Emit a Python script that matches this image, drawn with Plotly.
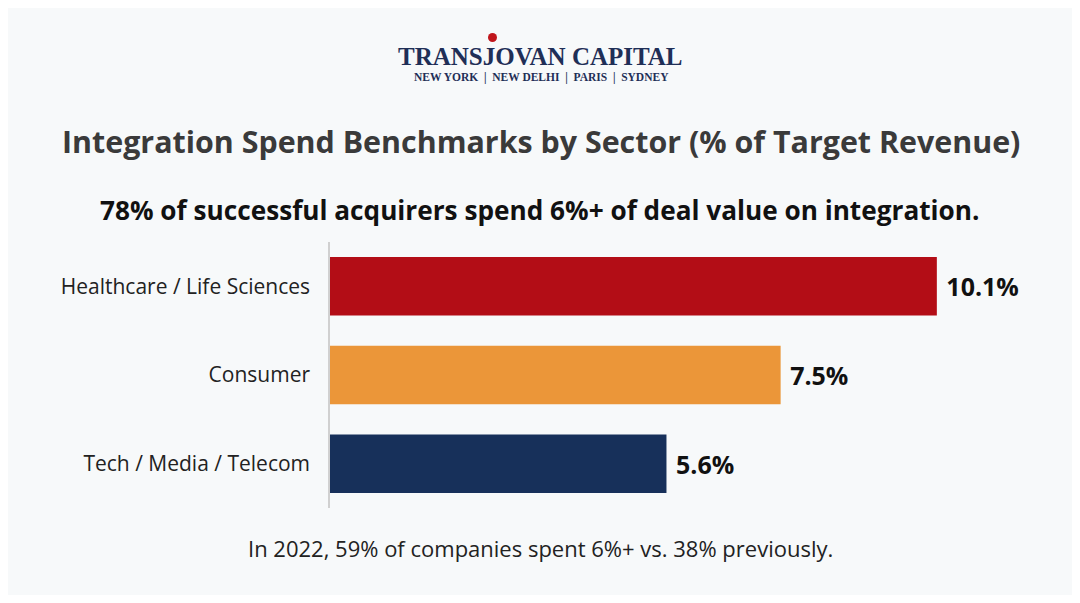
import plotly.graph_objects as go

sectors = ["Healthcare / Life Sciences", "Consumer", "Tech / Media / Telecom"]
spend = [10.1, 7.5, 5.6]
labels = ["10.1%", "7.5%", "5.6%"]
colors = ["#b30d16", "#eb9639", "#17305a"]

fig = go.Figure(go.Bar(
    y=sectors, x=spend, orientation="h", width=0.66,
    marker=dict(color=colors, line_width=0),
    text=labels, textposition="outside", cliponaxis=False,
    textfont=dict(family="Open Sans", size=25, color="#111"),
))
fig.update_traces(texttemplate="<b> %{text}</b>")

fig.update_layout(
    width=1064, height=587,
    margin=dict(l=322, r=21, t=234, b=87),
    paper_bgcolor="#f7f9fa", plot_bgcolor="#f7f9fa",
    showlegend=False,
    font=dict(family="Open Sans", color="#222"),
)
fig.update_xaxes(range=[0, 12], visible=False)
fig.update_yaxes(autorange="reversed", showline=True, linecolor="#d0d0d0", linewidth=1.5,
                 ticks="", tickfont=dict(size=21, color="#222"), ticklabelstandoff=14)

def px(x):
    return (x - 330) / 721

def py(y):
    return (508 - y) / 266

ann = [
    dict(text="<b>TRANSJOVAN CAPITAL</b>", x=540, y=56, size=25, color="#1f2f57", family="Liberation Serif"),
    dict(text="<b>NEW YORK  |  NEW DELHI  |  PARIS  |  SYDNEY</b>", x=541, y=78, size=11.5, color="#1f2f57", family="Liberation Serif"),
    dict(text="<b>Integration Spend Benchmarks by Sector (% of Target Revenue)</b>", x=541, y=141, size=30.4, color="#3a3a3a", family="Open Sans"),
    dict(text="<b>78% of successful acquirers spend 6%+ of deal value on integration.</b>", x=539, y=210, size=26.2, color="#111", family="Open Sans"),
    dict(text="In 2022, 59% of companies spent 6%+ vs. 38% previously.", x=540, y=548, size=22, color="#222", family="Open Sans"),
]
for a in ann:
    fig.add_annotation(text=a["text"], xref="paper", yref="paper", x=px(a["x"]), y=py(a["y"]),
                       showarrow=False, xanchor="center", yanchor="middle",
                       font=dict(family=a["family"], size=a["size"], color=a["color"]))

fig.add_shape(type="circle", xref="paper", yref="paper",
              x0=px(488), x1=px(497), y0=py(42), y1=py(33),
              fillcolor="#c0161c", line_width=0)

fig.write_html("out.html")
